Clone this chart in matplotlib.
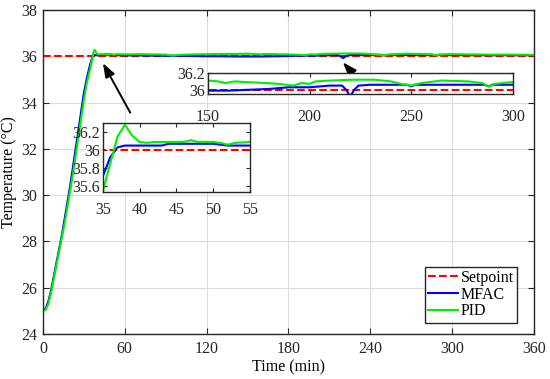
import matplotlib
matplotlib.use("Agg")
import matplotlib.pyplot as plt

plt.rcParams['font.family'] = ['Liberation Serif', 'DejaVu Serif']

# Setpoint
setpoint = 36.0
t_range = [0, 360]

# MFAC response
t_mfac = [0, 2, 4, 6, 8, 10, 12, 14, 16, 18, 20, 22, 24, 26, 28, 30, 32, 34, 35, 36, 37, 38,
          40, 42, 43, 44, 46, 48, 50, 52, 55, 60, 70, 80, 90, 100, 110, 120, 130, 140, 150,
          160, 170, 180, 190, 200, 210, 216, 218, 220, 222, 224, 230, 240, 248, 250, 252,
          260, 270, 280, 286, 288, 290, 300, 320, 340, 360]
y_mfac = [25.0, 25.1, 25.4, 25.9, 26.5, 27.1, 27.7, 28.3, 29.0, 29.7, 30.4, 31.2, 32.0, 32.8,
          33.6, 34.4, 35.0, 35.5, 35.71, 35.92, 36.03, 36.05,
          36.05, 36.05, 36.05, 36.07, 36.07, 36.07, 36.07, 36.05, 36.05, 36.04, 36.04, 36.03,
          36.02, 36.02, 36.01, 36.0, 36.0, 35.99, 35.99,
          35.99, 36.0, 36.01, 36.03, 36.03, 36.05, 36.05, 36.0, 35.92, 36.0, 36.05, 36.06,
          36.06, 36.06, 36.04, 36.06,
          36.06, 36.06, 36.06, 36.06, 36.04, 36.06, 36.06, 36.05, 36.05, 36.05]

# PID response
t_pid = [0, 2, 4, 6, 8, 10, 12, 14, 16, 18, 20, 22, 24, 26, 28, 30, 32, 34, 35, 36, 37, 38,
         39, 40, 41, 42, 44, 46, 47, 48, 50, 51, 52, 53, 55, 60, 70, 80, 90, 95, 100, 110,
         120, 130, 140, 150, 155, 159, 163, 170, 179, 185, 192, 196, 200, 203, 210, 221,
         232, 240, 245, 250, 255, 265, 278, 285, 288, 291, 299, 310, 330, 345, 360]
y_pid = [25.0, 25.05, 25.3, 25.8, 26.4, 27.0, 27.6, 28.2, 28.8, 29.5, 30.2, 30.9, 31.7, 32.5,
         33.3, 34.1, 34.8, 35.3, 35.54, 35.85, 36.15, 36.28,
         36.16, 36.09, 36.08, 36.09, 36.09, 36.09, 36.11, 36.09, 36.09, 36.08, 36.06, 36.08,
         36.09, 36.08, 36.09, 36.08, 36.07, 36.03, 36.06, 36.08,
         36.09, 36.1, 36.1, 36.11, 36.1, 36.08, 36.1, 36.09, 36.08, 36.07, 36.05, 36.08,
         36.07, 36.1, 36.11, 36.12,
         36.12, 36.1, 36.07, 36.05, 36.08, 36.11, 36.1, 36.08, 36.04, 36.07, 36.09, 36.08,
         36.07, 36.07, 36.06]

x_ticks = [0, 60, 120, 180, 240, 300, 360]
y_ticks = [24, 26, 28, 30, 32, 34, 36, 38]
in1_xticks = [35, 40, 45, 50, 55]
in1_yticks = [35.6, 35.8, 36, 36.2]
in2_xticks = [150, 200, 250, 300]
in2_yticks = [36, 36.2]

FS = 11.5


def draw_lines(ax, lw=1.5):
    ax.plot(t_range, [setpoint, setpoint], 'r--', lw=lw, label='Setpoint')
    ax.plot(t_mfac, y_mfac, color='#0000ff', lw=lw, label='MFAC')
    ax.plot(t_pid, y_pid, color='#00ee00', lw=lw, label='PID')


def style_box(ax):
    for s in ax.spines.values():
        s.set_color('#262626')
        s.set_linewidth(1.0)
    ax.tick_params(direction='in', top=True, right=True, length=3,
                   labelsize=FS, colors='#262626', labelcolor='#262626')


fig = plt.figure(figsize=(5.5, 3.79), dpi=100)
ax = fig.add_axes([0.078, 0.1187, 0.893, 0.855])
draw_lines(ax)
ax.set_xlim(0, 360)
ax.set_ylim(24, 38)
ax.set_xticks(x_ticks)
ax.set_yticks(y_ticks)
ax.grid(True, color='#dcdcdc', lw=0.8)
ax.set_axisbelow(True)
style_box(ax)
ax.tick_params(length=4)
ax.tick_params(axis='x', pad=5)
ax.tick_params(axis='y', pad=4)
ax.set_xlabel('Time (min)', fontsize=FS, labelpad=2)
ax.set_ylabel('Temperature (°C)', fontsize=FS, labelpad=3)
leg = ax.legend(loc='lower right', bbox_to_anchor=(0.965, 0.035), fontsize=FS,
                fancybox=False, edgecolor='#262626', framealpha=1,
                handlelength=1.9, handletextpad=0.15, borderpad=0.2,
                labelspacing=0.05, borderaxespad=0)
leg.get_frame().set_linewidth(1.0)

# arrows
arrow_props = dict(arrowstyle='-|>,head_length=0.7,head_width=0.25', color='black',
                   lw=1.4, mutation_scale=12)
ax.annotate('', xy=(43, 35.81), xytext=(65, 33.46), arrowprops=arrow_props)
ax.annotate('', xy=(218.5, 35.83), xytext=(225, 35.4), arrowprops=arrow_props)

# inset 1
ax1 = fig.add_axes([0.187, 0.4934, 0.267, 0.182])
draw_lines(ax1)
ax1.set_xlim(35, 55)
ax1.set_ylim(35.535, 36.3)
ax1.set_xticks(in1_xticks)
ax1.set_yticks(in1_yticks)
ax1.set_yticklabels(['35.6', '35.8', '36', '36.2'])
style_box(ax1)
ax1.tick_params(axis='x', pad=7)
ax1.tick_params(axis='y', pad=2)

# inset 2
ax2 = fig.add_axes([0.378, 0.752, 0.5545, 0.0554])
draw_lines(ax2)
ax2.set_xlim(150, 300)
ax2.set_ylim(35.95, 36.2)
ax2.set_xticks(in2_xticks)
ax2.set_yticks(in2_yticks)
ax2.set_yticklabels(['36', '36.2'])
style_box(ax2)
ax2.tick_params(axis='x', pad=11)
ax2.tick_params(axis='y', pad=2)

fig.savefig('out.png', dpi=100)
